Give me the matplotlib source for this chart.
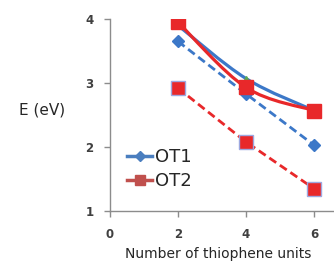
import matplotlib
matplotlib.use("Agg")
import matplotlib.pyplot as plt
from matplotlib.path import Path
from matplotlib.patches import PathPatch
from matplotlib.lines import Line2D
import numpy as np

units = [2, 4, 6]
ot1_solid = [3.90, 3.07, 2.57]
ot1_dashed = [3.65, 2.83, 2.03]
ot2_solid = [3.95, 2.93, 2.57]
ot2_dashed = [2.92, 2.08, 1.35]
xticks = [0, 2, 4, 6]
yticks = [1, 2, 3, 4]

BLUE = "#3C78C8"
RED = "#E8282A"
LEG_BLUE = "#4A7EBF"
LEG_RED = "#C0504D"

fig = plt.figure(figsize=(3.34, 2.63), dpi=100)
ax = fig.add_axes([110/334, 52/263, 223/334, 192/263])


def smooth_path(xs, ys):
    pts = np.column_stack([xs, ys]).astype(float)
    n = len(pts)
    verts = [pts[0]]
    codes = [Path.MOVETO]
    for i in range(n - 1):
        p_prev = pts[i - 1] if i > 0 else pts[i]
        p0 = pts[i]
        p1 = pts[i + 1]
        p_next = pts[i + 2] if i + 2 < n else pts[i + 1]
        c1 = p0 + (p1 - p_prev) / 6.0
        c2 = p1 - (p_next - p0) / 6.0
        verts += [c1, c2, p1]
        codes += [Path.CURVE4] * 3
    return Path(verts, codes)


# solid smoothed curves
ax.add_patch(PathPatch(smooth_path(units, ot1_solid), fill=False, edgecolor=BLUE,
                       lw=2.3, zorder=3, capstyle="round"))
ax.plot(units, ot1_solid, linestyle="none", marker="^", ms=4, color="#5AAA50", zorder=3.5)
ax.add_patch(PathPatch(smooth_path(units, ot2_solid), fill=False, edgecolor=RED,
                       lw=2.3, zorder=4, capstyle="round"))
ax.plot(units, ot2_solid, linestyle="none", marker="s", ms=9.5, color=RED,
        markeredgecolor=RED, zorder=5)

# dashed lines
ax.plot(units, ot1_dashed, linestyle=(0, (3, 1.6)), lw=2.0, color=BLUE,
        marker="D", ms=6, markeredgecolor=BLUE, zorder=3)
ax.plot(units, ot2_dashed, linestyle=(0, (3, 1.6)), lw=2.0, color=RED,
        marker="s", ms=9.5, markerfacecolor=RED, markeredgecolor="#9DA8E0",
        markeredgewidth=1.0, zorder=3)

ax.set_xlim(0, 6.56)
ax.set_ylim(1, 4)
ax.set_xticks(xticks)
ax.set_yticks(yticks)
ax.set_xticklabels([str(t) for t in xticks])
ax.set_yticklabels([str(t) for t in yticks])
for s in ["top", "right"]:
    ax.spines[s].set_visible(False)
for s in ["left", "bottom"]:
    ax.spines[s].set_color("#8C8C8C")
    ax.spines[s].set_linewidth(1.0)
ax.tick_params(axis="both", colors="#8C8C8C", length=4, width=1.0,
               labelcolor="#404040", labelsize=8.5)
ax.tick_params(axis="x", pad=8)
ax.tick_params(axis="y", pad=8)
for lab in ax.get_xticklabels() + ax.get_yticklabels():
    lab.set_fontweight("bold")

fig.text(218/334, 1 - 254/263, "Number of thiophene units", ha="center", va="center",
         fontsize=10, color="#262626")
fig.text(42/334, 1 - 110/263, "E (eV)", ha="center", va="center",
         fontsize=11, color="#262626")

handles = [
    Line2D([], [], color=LEG_BLUE, lw=2.5, marker="D", ms=5, markeredgecolor=LEG_BLUE),
    Line2D([], [], color=LEG_RED, lw=2.5, marker="s", ms=7, markeredgecolor=LEG_RED),
]
leg = ax.legend(handles, ["OT1", "OT2"], loc="center left",
                bbox_to_anchor=((127 - 110) / 223, (211 - 169) / 192),
                frameon=False, fontsize=13, handlelength=1.4, handletextpad=0.15,
                labelspacing=0.35, borderpad=0, borderaxespad=0)
for t in leg.get_texts():
    t.set_color("#262626")

fig.savefig("out.png", dpi=100)
